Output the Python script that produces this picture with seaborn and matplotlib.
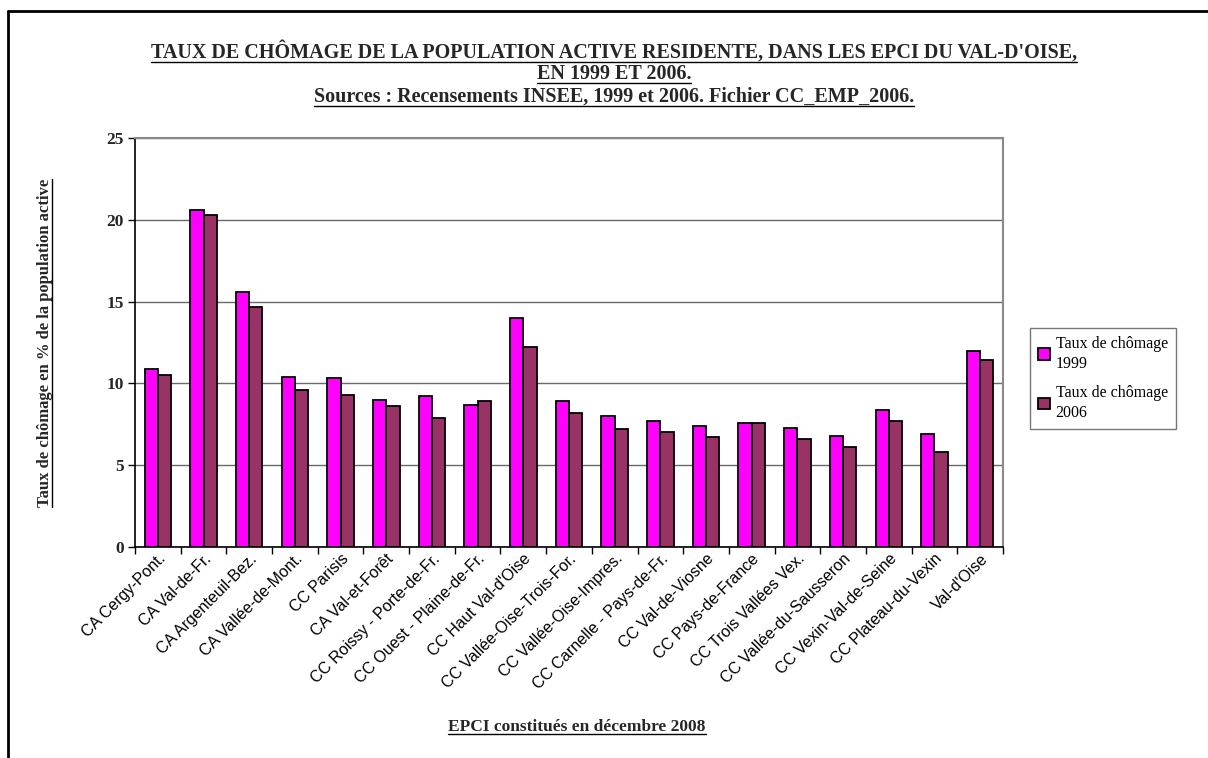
import matplotlib
matplotlib.use("Agg")
import matplotlib.pyplot as plt
from matplotlib.lines import Line2D
import seaborn as sns
import pandas as pd
import numpy as np

categories = [
    "CA Cergy-Pont.", "CA Val-de-Fr.", "CA Argenteuil-Bez.", "CA Vallée-de-Mont.",
    "CC Parisis", "CA Val-et-Forêt", "CC Roissy - Porte-de-Fr.", "CC Ouest - Plaine-de-Fr.",
    "CC Haut Val-d'Oise", "CC Vallée-Oise-Trois-For.", "CC Vallée-Oise-Impres.",
    "CC Carnelle - Pays-de-Fr.", "CC Val-de-Viosne", "CC Pays-de-France",
    "CC Trois Vallées Vex.", "CC Vallée-du-Sausseron", "CC Vexin-Val-de-Seine",
    "CC Plateau-du-Vexin", "Val-d'Oise",
]
taux_1999 = [10.9, 20.6, 15.6, 10.4, 10.3, 9.0, 9.2, 8.7, 14.0, 8.9,
             8.0, 7.7, 7.4, 7.6, 7.3, 6.8, 8.4, 6.9, 12.0]
taux_2006 = [10.5, 20.3, 14.7, 9.6, 9.3, 8.6, 7.9, 8.9, 12.2, 8.2,
             7.2, 7.0, 6.7, 7.6, 6.6, 6.1, 7.7, 5.8, 11.4]
series_labels = ["Taux de chômage\n1999", "Taux de chômage\n2006"]
colors = ["#FF00FF", "#993366"]
y_ticks = [0, 5, 10, 15, 20, 25]

df = pd.DataFrame({
    "EPCI": categories * 2,
    "Taux": taux_1999 + taux_2006,
    "Série": [series_labels[0]] * len(categories) + [series_labels[1]] * len(categories),
})

sns.set_theme(style="white")
plt.rcParams["font.family"] = ["Liberation Serif", "DejaVu Serif"]

W, H = 1208, 758
fig = plt.figure(figsize=(W / 100, H / 100), dpi=100)
fig.patch.set_facecolor("white")
ax = fig.add_axes([135 / W, 1 - 547 / H, (1003 - 135) / W, (547 - 138) / H])

sns.barplot(data=df, x="EPCI", y="Taux", hue="Série", order=categories,
            hue_order=series_labels, palette=colors, edgecolor="black",
            linewidth=1.3, width=0.58, gap=0, saturation=1, ax=ax, zorder=3)

ax.set_ylim(0, 25)
ax.set_xlim(-0.5, len(categories) - 0.5)
ax.set_yticks(y_ticks)
ax.set_yticklabels([str(v) for v in y_ticks], fontweight="bold", fontsize=12.5,
                   fontfamily="Liberation Serif")
ax.yaxis.grid(True, color="#6a6a6a", linewidth=1.0, zorder=0)
ax.set_axisbelow(True)
ax.tick_params(axis="y", direction="out", length=5, width=1, color="black", pad=3, left=True)

ax.set_xticks(range(len(categories)))
ax.set_xticks(np.arange(-0.5, len(categories), 1.0), minor=True)
ax.tick_params(axis="x", which="major", length=0, pad=3)
ax.tick_params(axis="x", which="minor", direction="out", length=5, width=1, color="black", bottom=True)
ax.set_xticklabels(categories, rotation=45, ha="right", va="top", rotation_mode="anchor",
                   fontsize=11.5, fontfamily="Liberation Sans", color="black")

for side in ["left", "bottom"]:
    ax.spines[side].set_color("black")
    ax.spines[side].set_linewidth(1.2)
for side in ["top", "right"]:
    ax.spines[side].set_color("#8a8a8a")
    ax.spines[side].set_linewidth(1.5)

ax.set_xlabel("")
ax.set_ylabel("")

leg = ax.legend(loc="upper left", bbox_to_anchor=(1030 / W, 1 - 328 / H),
                bbox_transform=fig.transFigure, frameon=True, fancybox=False,
                edgecolor="#555555", handlelength=0.75, handleheight=0.75,
                handletextpad=0.35, labelspacing=0.85, borderpad=0.5, borderaxespad=0,
                prop={"family": "Liberation Serif", "size": 11.5})
leg.get_frame().set_linewidth(1.0)
for t in leg.get_texts():
    t.set_linespacing(1.3)
    t.set_color("black")

# Titles and axis labels
texts = []
texts.append(fig.text(614 / W, 1 - 52 / H,
    "TAUX DE CHÔMAGE DE LA POPULATION ACTIVE RESIDENTE, DANS LES EPCI DU VAL-D'OISE,",
    ha="center", va="center", fontsize=14.5, fontweight="bold"))
texts.append(fig.text(614 / W, 1 - 74 / H, "EN 1999 ET 2006.",
    ha="center", va="center", fontsize=14.5, fontweight="bold"))
texts.append(fig.text(614 / W, 1 - 97 / H,
    "Sources : Recensements INSEE, 1999 et 2006. Fichier CC_EMP_2006.",
    ha="center", va="center", fontsize=14.5, fontweight="bold"))
texts.append(fig.text(577 / W, 1 - 727 / H, "EPCI constitués en décembre 2008",
    ha="center", va="center", fontsize=12.5, fontweight="bold"))
ylab = fig.text(45 / W, 1 - 343 / H, "Taux de chômage en % de la population active",
    ha="center", va="center", rotation=90, fontsize=12, fontweight="bold")

# Figure border (top and left lines)
fig.add_artist(Line2D([8 / W, 8 / W], [0, 1 - 11 / H], transform=fig.transFigure,
                      color="black", linewidth=2))
fig.add_artist(Line2D([8 / W, 1], [1 - 11 / H, 1 - 11 / H], transform=fig.transFigure,
                      color="black", linewidth=2))

# Underlines
fig.canvas.draw()
r = fig.canvas.get_renderer()
for t in texts:
    bb = t.get_window_extent(renderer=r)
    yb = (bb.y0 + 1) / H
    fig.add_artist(Line2D([bb.x0 / W, bb.x1 / W], [yb, yb], transform=fig.transFigure,
                          color="black", linewidth=1))
bb = ylab.get_window_extent(renderer=r)
xb = (bb.x1 - 1) / W
fig.add_artist(Line2D([xb, xb], [bb.y0 / H, bb.y1 / H], transform=fig.transFigure,
                      color="black", linewidth=1))

fig.savefig("out.png", dpi=100, facecolor="white")
